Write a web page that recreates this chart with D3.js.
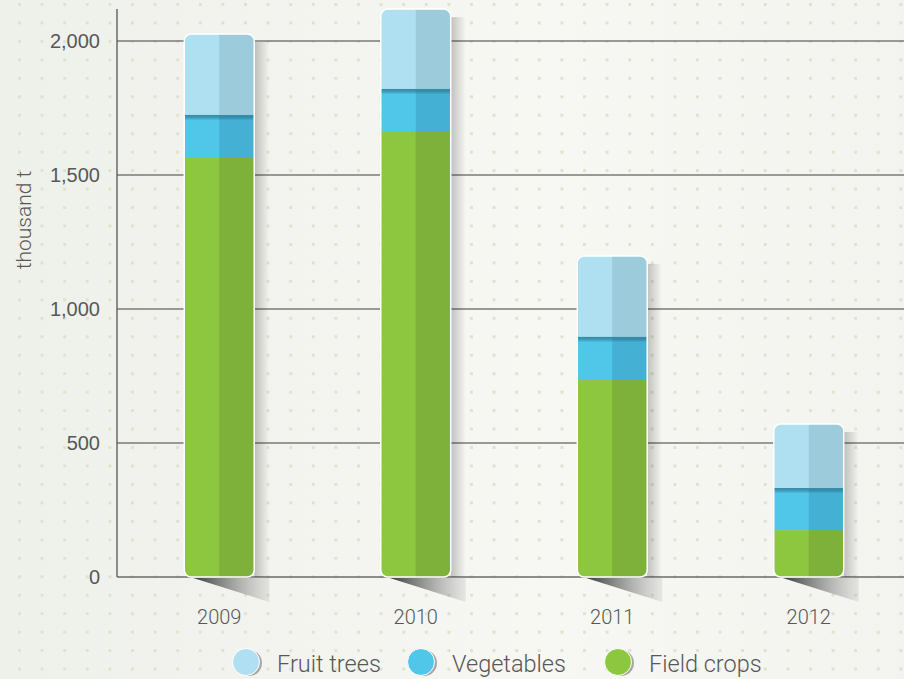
<!DOCTYPE html>
<html><head><meta charset="utf-8">
<script src="https://cdn.jsdelivr.net/npm/d3@7"></script>
<style>
body{margin:0;padding:0;background:#f3f4ef;}
svg{display:block;font-family:Roboto,"Open Sans",sans-serif;}
</style></head>
<body><svg id="c" width="904" height="679"></svg>
<script>
const years = ["2009","2010","2011","2012"];
const fieldCrops = [1567, 1664, 735, 175];
const vegetables = [157, 157, 161, 157];
const fruitTrees = [302, 298, 302, 239];
const seriesNames = ["Fruit trees","Vegetables","Field crops"];
const yTicks = [0, 500, 1000, 1500, 2000];

const W = 904, H = 679;
const svg = d3.select("#c");
const defs = svg.append("defs");

// background
const bg = defs.append("linearGradient").attr("id","bg").attr("x1","0").attr("x2","1").attr("y1","0").attr("y2","0");
bg.append("stop").attr("offset","0").attr("stop-color","#eef0ea");
bg.append("stop").attr("offset","0.6").attr("stop-color","#f7f7f4");
bg.append("stop").attr("offset","1").attr("stop-color","#f3f4f0");
svg.append("rect").attr("width",W).attr("height",H).attr("fill","url(#bg)");
const pat = defs.append("pattern").attr("id","dots").attr("patternUnits","userSpaceOnUse")
  .attr("x",18).attr("y",3).attr("width",22.6).attr("height",18.46);
pat.append("rect").attr("width",3).attr("height",3).attr("fill","#dfe3cc");
svg.append("rect").attr("width",W).attr("height",H).attr("fill","url(#dots)");

const y = d3.scaleLinear().domain([0,2000]).range([577,41]);
const x = d3.scaleBand().domain(years).range([121,907]).paddingInner(0.644).paddingOuter(0.322);
const bw = x.bandwidth();
const x0 = 117;

// gridlines
svg.append("g").selectAll("line").data(yTicks.filter(d=>d>0)).join("line")
  .attr("x1",x0).attr("x2",W).attr("y1",d=>y(d)).attr("y2",d=>y(d))
  .attr("stroke","#7a7a7a").attr("stroke-width",1.3);

// y axis
const yAxis = d3.axisLeft(y).tickValues(yTicks).tickFormat(d3.format(",")).tickSize(0).tickPadding(17);
const ya = svg.append("g").attr("transform",`translate(${x0},0)`).call(yAxis);
ya.select(".domain").remove();
ya.selectAll("text").attr("font-size",20).attr("fill","#585858").attr("font-weight",300);
svg.append("line").attr("x1",x0).attr("x2",x0).attr("y1",9).attr("y2",577).attr("stroke","#555").attr("stroke-width",1.3);
svg.append("line").attr("x1",x0).attr("x2",W).attr("y1",577).attr("y2",577).attr("stroke","#6a6a6a").attr("stroke-width",1.5);

svg.append("text").attr("transform","translate(31,220) rotate(-90)").attr("text-anchor","middle")
  .attr("font-size",21).attr("fill","#585858").attr("font-weight",300).text("thousand t");

// gradients for shadows
const sr = defs.append("linearGradient").attr("id","shR").attr("x1","0").attr("x2","1");
sr.append("stop").attr("offset","0").attr("stop-color","#000").attr("stop-opacity",0.22);
sr.append("stop").attr("offset","1").attr("stop-color","#000").attr("stop-opacity",0);
const sb = defs.append("linearGradient").attr("id","shB").attr("x1","0").attr("x2","1");
sb.append("stop").attr("offset","0").attr("stop-color","#3a3a3a").attr("stop-opacity",1);
sb.append("stop").attr("offset","1").attr("stop-color","#888").attr("stop-opacity",0.15);
const vt = defs.append("linearGradient").attr("id","vTop").attr("x1","0").attr("x2","0").attr("y1","0").attr("y2","1");
vt.append("stop").attr("offset","0").attr("stop-color","#1c5f78").attr("stop-opacity",0.55);
vt.append("stop").attr("offset","1").attr("stop-color","#1c5f78").attr("stop-opacity",0);

const colors = {
  "Fruit trees":["#aee0f1","#9ccbdb"],
  "Vegetables":["#50c6e8","#44b0d3"],
  "Field crops":["#8dc63f","#7db13a"]
};

const data = years.map((yr,i)=>({year:yr, segs:[
  {name:"Field crops", y0:0, y1:fieldCrops[i]},
  {name:"Vegetables", y0:fieldCrops[i], y1:fieldCrops[i]+vegetables[i]},
  {name:"Fruit trees", y0:fieldCrops[i]+vegetables[i], y1:fieldCrops[i]+vegetables[i]+fruitTrees[i]}
]}));

const bars = svg.append("g").selectAll("g").data(data).join("g");
bars.each(function(d,i){
  const g = d3.select(this);
  const L = x(d.year), R = L+bw;
  const top = y(d.segs[2].y1), base = y(0);
  g.append("rect").attr("x",R).attr("y",top+8).attr("width",15).attr("height",base-top-8).attr("fill","url(#shR)");
  g.append("path").attr("d",`M${L+9},${base+1}L${R+15},${base+1}L${R+15},${base+25}Z`).attr("fill","url(#shB)");
  const cid = "clip"+i;
  defs.append("clipPath").attr("id",cid).append("rect").attr("x",L).attr("y",top).attr("width",bw).attr("height",base-top).attr("rx",7);
  const cg = g.append("g").attr("clip-path",`url(#${cid})`);
  d.segs.forEach(s=>{
    const c = colors[s.name];
    cg.append("rect").attr("x",L).attr("y",y(s.y1)).attr("width",bw).attr("height",y(s.y0)-y(s.y1)).attr("fill",c[0]);
    cg.append("rect").attr("x",L+bw/2).attr("y",y(s.y1)).attr("width",bw/2).attr("height",y(s.y0)-y(s.y1)).attr("fill",c[1]);
  });
  const vs = d.segs[1];
  cg.append("rect").attr("x",L).attr("y",y(vs.y1)).attr("width",bw).attr("height",1.5).attr("fill","#3a8aa8");
  cg.append("rect").attr("x",L).attr("y",y(vs.y1)+1.5).attr("width",bw).attr("height",4).attr("fill","url(#vTop)");
  g.append("rect").attr("x",L).attr("y",top).attr("width",bw).attr("height",base-top).attr("rx",7)
    .attr("fill","none").attr("stroke","#fff").attr("stroke-width",1.5);
});

// x labels
svg.append("g").selectAll("text").data(years).join("text")
  .attr("x",d=>x(d)+bw/2).attr("y",624).attr("text-anchor","middle")
  .attr("font-size",20).attr("fill","#585858").attr("font-weight",300).text(d=>d);

// legend
const legX = [246, 421, 618];
const leg = svg.append("g").selectAll("g").data(seriesNames).join("g")
  .attr("transform",(d,i)=>`translate(${legX[i]},662)`);
leg.append("circle").attr("cx",3).attr("cy",1).attr("r",13).attr("fill","#888").attr("opacity",0.7);
leg.append("circle").attr("r",13.5).attr("fill",d=>colors[d][0]).attr("stroke","#fff").attr("stroke-width",1);
leg.append("text").attr("x",31).attr("y",10).attr("font-size",23.5).attr("fill","#585858").attr("font-weight",300).text(d=>d);
</script></body></html>
